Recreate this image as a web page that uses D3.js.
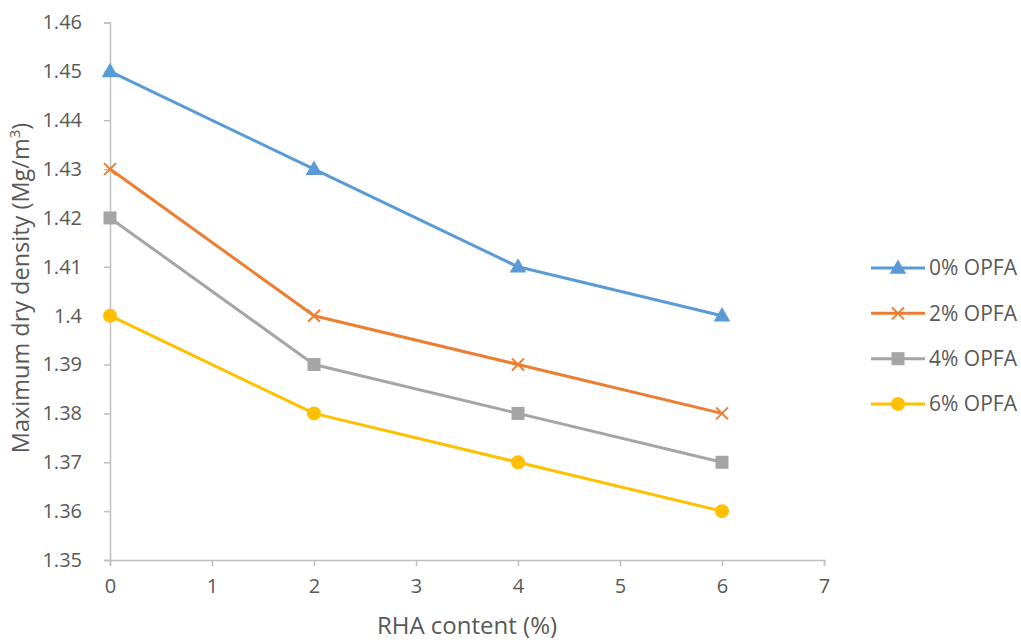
<!DOCTYPE html>
<html>
<head>
<meta charset="utf-8">
<script src="https://cdn.jsdelivr.net/npm/d3@7"></script>
<style>
  body { margin: 0; background: #fff; }
  text { font-family: "Open Sans", Lato, sans-serif; fill: #595959; }
</style>
</head>
<body>
<svg id="chart" width="1021" height="642"></svg>
<script>
// RHA content (%) on the x axis
const rhaContent = [0, 2, 4, 6];
// Maximum dry density (Mg/m3) for each OPFA content
const opfa0 = [1.45, 1.43, 1.41, 1.40];
const opfa2 = [1.43, 1.40, 1.39, 1.38];
const opfa4 = [1.42, 1.39, 1.38, 1.37];
const opfa6 = [1.40, 1.38, 1.37, 1.36];
const seriesNames = ["0% OPFA", "2% OPFA", "4% OPFA", "6% OPFA"];
const xTicks = [0, 1, 2, 3, 4, 5, 6, 7];
const yTicks = [1.35, 1.36, 1.37, 1.38, 1.39, 1.40, 1.41, 1.42, 1.43, 1.44, 1.45, 1.46];

const series = [
  { name: seriesNames[0], values: opfa0, color: "#5B9BD5", marker: "triangle" },
  { name: seriesNames[1], values: opfa2, color: "#ED7D31", marker: "x" },
  { name: seriesNames[2], values: opfa4, color: "#A5A5A5", marker: "square" },
  { name: seriesNames[3], values: opfa6, color: "#FFC000", marker: "circle" }
];

const svg = d3.select("#chart");
const x = d3.scaleLinear().domain([0, 7]).range([110, 824]);
const y = d3.scaleLinear().domain([1.35, 1.46]).range([560, 22.5]);

const axisColor = "#BFBFBF";
const fontStack = "'Open Sans', Lato, sans-serif";

// y axis
const yAxis = svg.append("g").attr("transform", "translate(110,0)")
  .call(d3.axisLeft(y).tickValues(yTicks).tickSizeOuter(0).tickSize(6).tickPadding(22)
    .tickFormat(d => String(+d.toFixed(2))));
// x axis
const xAxis = svg.append("g").attr("transform", "translate(0,560)")
  .call(d3.axisBottom(x).tickValues(xTicks).tickSizeOuter(0).tickSize(6).tickPadding(13)
    .tickFormat(d3.format("d")));

[yAxis, xAxis].forEach(g => {
  g.select(".domain").attr("stroke", axisColor).attr("stroke-width", 1.5);
  g.selectAll(".tick line").attr("stroke", axisColor).attr("stroke-width", 1.5);
  g.selectAll(".tick text").attr("font-size", 20).attr("fill", "#595959")
    .style("font-family", fontStack);
});

// axis titles
svg.append("text")
  .attr("x", 467).attr("y", 634)
  .attr("text-anchor", "middle").attr("font-size", 24)
  .text("RHA content (%)");

const yTitle = svg.append("text")
  .attr("transform", "translate(29,288) rotate(-90)")
  .attr("text-anchor", "middle").attr("font-size", 23.5);
yTitle.append("tspan").text("Maximum dry density (Mg/m");
yTitle.append("tspan").attr("font-size", 15).attr("dy", -9).text("3");
yTitle.append("tspan").attr("dy", 9).text(")");

function drawMarker(g, type, color) {
  if (type === "triangle") {
    g.append("path").attr("d", d3.symbol(d3.symbolTriangle, 120)()).attr("fill", color)
      .attr("transform", "translate(0,1)");
  } else if (type === "x") {
    g.append("path").attr("d", "M-6,-6L6,6M-6,6L6,-6").attr("stroke", color)
      .attr("stroke-width", 2).attr("fill", "none");
  } else if (type === "square") {
    g.append("rect").attr("x", -6.5).attr("y", -6.5).attr("width", 13).attr("height", 13)
      .attr("fill", color);
  } else {
    g.append("circle").attr("r", 7).attr("fill", color);
  }
}

const line = d3.line().x((d, i) => x(rhaContent[i])).y(d => y(d));

series.forEach(s => {
  svg.append("path").datum(s.values)
    .attr("d", line).attr("fill", "none")
    .attr("stroke", s.color).attr("stroke-width", 3).attr("stroke-linejoin", "round");
  s.values.forEach((v, i) => {
    const g = svg.append("g").attr("transform", `translate(${x(rhaContent[i])},${y(v)})`);
    drawMarker(g, s.marker, s.color);
  });
});

// legend
const legendY = d3.scalePoint().domain(seriesNames).range([268, 404]);
series.forEach(s => {
  const ly = legendY(s.name);
  svg.append("line").attr("x1", 871).attr("x2", 925).attr("y1", ly).attr("y2", ly)
    .attr("stroke", s.color).attr("stroke-width", 3);
  const g = svg.append("g").attr("transform", `translate(898,${ly})`);
  drawMarker(g, s.marker, s.color);
  svg.append("text").attr("x", 929).attr("y", ly).attr("dy", "0.35em")
    .attr("font-size", 21).text(s.name);
});
</script>
</body>
</html>
